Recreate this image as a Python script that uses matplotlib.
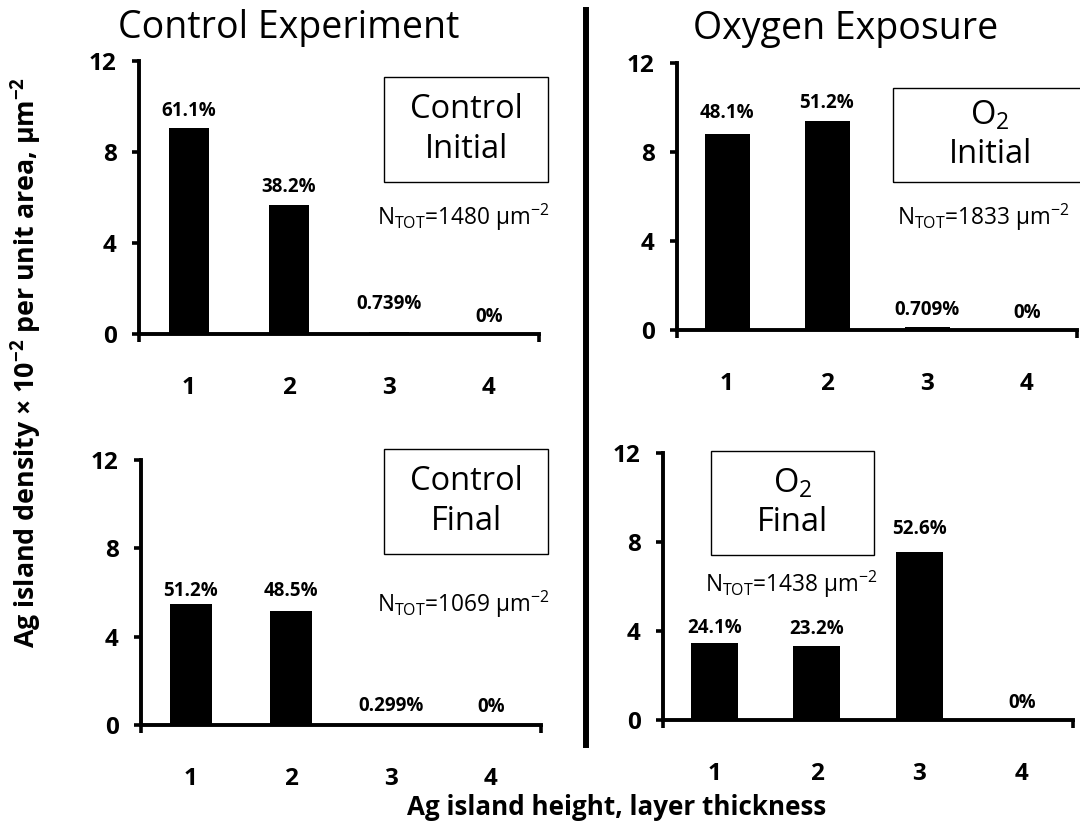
## Ag island height distributions, control vs O2 exposure
import numpy as np
import matplotlib
matplotlib.use('Agg')
import matplotlib.pyplot as plt
from matplotlib.patches import Rectangle

plt.rcParams['font.family'] = ['Open Sans', 'DejaVu Sans']
plt.rcParams['mathtext.fontset'] = 'custom'
plt.rcParams['mathtext.rm'] = 'Open Sans'
plt.rcParams['mathtext.bf'] = 'Open Sans:bold'

## Data
layers = [1, 2, 3, 4]

# total island density per panel (um^-2) and share of each layer height (%)
ntot_ctrl_init = 1480
ntot_ctrl_final = 1069
ntot_o2_init = 1833
ntot_o2_final = 1438

pct_ctrl_init = [61.1, 38.2, 0.739, 0]
pct_ctrl_final = [51.2, 48.5, 0.299, 0]
pct_o2_init = [48.1, 51.2, 0.709, 0]
pct_o2_final = [24.1, 23.2, 52.6, 0]

## Figure
W, H = 1080, 825
fig = plt.figure(figsize=(W / 100, H / 100), dpi=100)

def px_axes(l, t, r, b):
    return fig.add_axes([l / W, 1 - b / H, (r - l) / W, (b - t) / H])

def box_label(l, t, r, b, txt):
    fig.patches.append(Rectangle((l / W, 1 - b / H), (r - l) / W, (b - t) / H,
                                 transform=fig.transFigure, fill=False,
                                 edgecolor='black', linewidth=1.0))
    fig.text((l + r) / 2 / W, 1 - (t + b) / 2 / H, txt, ha='center', va='center',
             fontsize=23.5, linespacing=1.25)

def panel(ax, ntot, pct, offsets, bar_w):
    dens = np.array(ntot) * np.array(pct) / 1e4  # x 10^-2 per um^2
    ax.bar(layers, dens, width=bar_w, color='black', zorder=3)
    for x, d, p, o in zip(layers, dens, pct, offsets):
        ax.annotate(f'{p:g}%', (x, d), xytext=(0, o), textcoords='offset pixels',
                    ha='center', va='center', fontsize=13.5, fontweight='bold')
    ax.set_xlim(0.5, 4.5)
    ax.set_ylim(0, 12)
    ax.set_yticks([0, 4, 8, 12])
    ax.set_xticks(layers)
    ax.set_xticks([0.5, 4.5], minor=True)
    ax.tick_params(axis='x', which='major', length=0, pad=30)
    ax.tick_params(axis='x', which='minor', length=6, width=2.6, direction='out')
    ax.tick_params(axis='y', length=5, width=2.6, pad=11)
    for lab in ax.get_xticklabels() + ax.get_yticklabels():
        lab.set_fontsize(17.5)
        lab.set_fontweight('bold')
    for s in ['top', 'right']:
        ax.spines[s].set_visible(False)
    for s in ['left', 'bottom']:
        ax.spines[s].set_linewidth(2.8)

ax_tl = px_axes(139, 61, 539, 334)
panel(ax_tl, ntot_ctrl_init, pct_ctrl_init, [17, 18, 28, 17], 0.40)
ax_tr = px_axes(677, 63, 1077, 330)
panel(ax_tr, ntot_o2_init, pct_o2_init, [21, 18, 17, 17], 0.45)
ax_bl = px_axes(141, 460, 541, 725)
panel(ax_bl, ntot_ctrl_final, pct_ctrl_final, [13, 20, 18, 18], 0.42)
ax_br = px_axes(663, 453, 1073, 720)
panel(ax_br, ntot_o2_final, pct_o2_final, [15, 17, 23, 17], 0.455)

# panel tags
box_label(384, 77, 548, 182, 'Control\nInitial')
box_label(893, 88, 1087, 182, 'O$_2$\nInitial')
box_label(384, 449, 548, 554, 'Control\nFinal')
box_label(711, 451, 874, 555, 'O$_2$\nFinal')

# total densities
ntot_fmt = 'N$_{\\mathrm{TOT}}$=%d µm$^{\\mathrm{-2}}$'
fig.text(377 / W, 1 - 225 / H, ntot_fmt % ntot_ctrl_init, va='baseline', fontsize=16.3)
fig.text(897 / W, 1 - 225 / H, ntot_fmt % ntot_o2_init, va='baseline', fontsize=16.3)
fig.text(377 / W, 1 - 612 / H, ntot_fmt % ntot_ctrl_final, va='baseline', fontsize=16.3)
fig.text(705 / W, 1 - 592 / H, ntot_fmt % ntot_o2_final, va='baseline', fontsize=16.3)

# column headers
fig.text(289 / W, 1 - 38 / H, 'Control Experiment', ha='center', va='baseline', fontsize=27)
fig.text(846 / W, 1 - 39 / H, 'Oxygen Exposure', ha='center', va='baseline', fontsize=27)

# divider between the two experiments
fig.add_artist(plt.Line2D([586 / W, 586 / W], [1 - 10 / H, 1 - 745 / H],
                          transform=fig.transFigure, color='black', linewidth=4.3))

# shared axis labels
fig.text(35 / W, 1 - 362 / H,
         'Ag island density × 10$^{\\mathbf{-2}}$ per unit area, µm$^{\\mathbf{-2}}$',
         rotation=90, rotation_mode='anchor', ha='center', va='baseline',
         fontsize=19.3, fontweight='bold')
fig.text(617 / W, 1 - 815 / H, 'Ag island height, layer thickness',
         ha='center', va='baseline', fontsize=18.7, fontweight='bold')

plt.savefig('out.png', dpi=100)
